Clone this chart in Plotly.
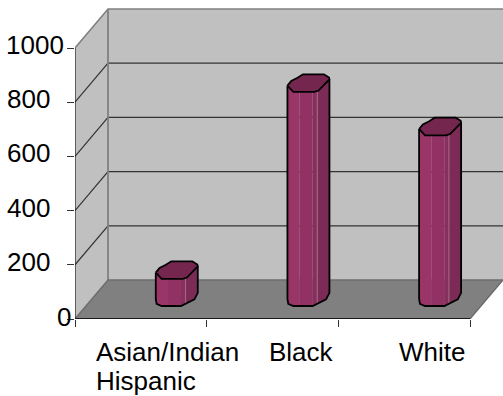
import numpy as np
import plotly.graph_objects as go

# ---- data ----
categories = ["Asian/Indian<br>Hispanic", "Black", "White"]
values = [100, 790, 630]
y_ticks = [0, 200, 400, 600, 800, 1000]

# ---- chart geometry (axis units) ----
W, H = 503, 396
LEFT, RIGHT, TOP, BOTTOM = 75, 0, 8, 77
CAT_PX = 131.67
VAL_PX = 0.271
DX = 33 / CAT_PX        # x shift of the full floor depth, in categories
DY = 39 / VAL_PX        # y shift of the full floor depth, in value units
XMAX = (W - LEFT - RIGHT) / CAT_PX
YMAX = (H - TOP - BOTTOM) / VAL_PX
NCAT = len(categories)
VMAX = y_ticks[-1]


def pr(x, v, d):
    """Oblique projection of (category pos, value, depth) onto the axes."""
    return x + d * DX, v + d * DY


def poly(points, fill=None, line=None, lw=0, clip=True):
    xs = [p[0] for p in points]
    ys = [p[1] for p in points]
    return go.Scatter(
        x=xs, y=ys, mode="lines" if line else "none",
        fill="toself" if fill else "none", fillcolor=fill,
        line=dict(color=line, width=lw) if line else None,
        hoverinfo="skip", showlegend=False, cliponaxis=clip,
    )


fig = go.Figure()

# walls and floor
fig.add_trace(poly([pr(0, 0, 1), pr(NCAT, 0, 1), pr(NCAT, VMAX, 1), pr(0, VMAX, 1), pr(0, 0, 1)], "#c0c0c0"))
fig.add_trace(poly([pr(0, 0, 0), pr(0, VMAX, 0), pr(0, VMAX, 1), pr(0, 0, 1), pr(0, 0, 0)], "#c0c0c0"))
fig.add_trace(poly([pr(0, 0, 0), pr(NCAT, 0, 0), pr(NCAT, 0, 1), pr(0, 0, 1), pr(0, 0, 0)], "#808080"))

# gridlines
for t in y_ticks[1:-1]:
    fig.add_trace(poly([pr(0, t, 0), pr(0, t, 1), pr(NCAT, t, 1)], None, "#333333", 1.2))

# wall edges
fig.add_trace(poly([pr(0, VMAX, 0), pr(0, VMAX, 1), pr(NCAT, VMAX, 1)], None, "#808080", 1.6))
fig.add_trace(poly([pr(0, 0, 1), pr(0, VMAX, 1)], None, "#808080", 1.8))
fig.add_trace(poly([pr(0, 0, 0), pr(0, 0, 1), pr(NCAT, 0, 1)], None, "#6e6e6e", 1.6))
fig.add_trace(poly([pr(NCAT, 0, 0), pr(NCAT, 0, 1)], None, "#666666", 1.2))

# bars: cross-section outline as fractions of the bar's drawn width / depth
BAR_W = 42 / CAT_PX
BAR_D = 17.6 / 39
BAR_OFF = 0.03
BAR_D0 = 0.333
cap_fx = [0.00, 0.14, 0.64, 0.74, 1.00, 0.99, 0.87, 0.37, 0.24, 0.09, 0.00]
cap_fy = [0.36, 0.00, 0.00, 0.08, 0.71, 0.82, 1.00, 1.00, 0.80, 0.62, 0.36]
top_fx = [0.00, 0.14, 0.64, 0.74, 1.00]
top_fy = [0.36, 0.00, 0.00, 0.08, 0.71]
front_fx = [0.00, 0.02, 0.14, 0.60, 0.92, 1.00]
front_fy = [0.40, 0.12, 0.00, 0.00, 0.38, 0.75]
bands = [(0.00, 0.29, "#9a3568"), (0.29, 0.60, "#923264"), (0.60, 0.71, "#87305d"), (0.71, 1.00, "#7b2b55")]


def bar_point(i, fx, fy, v):
    x0 = i + 0.5 + BAR_OFF + BAR_D0 * DX + fx * BAR_W
    return x0, v + (BAR_D0 + fy * BAR_D) * DY


for i, v in enumerate(values):
    for a, b, col in bands:
        fs = np.unique(np.r_[a, b, [f for f in front_fx + top_fx if a < f < b]])
        gs = np.interp(fs, front_fx, front_fy)
        ts = np.interp(fs, top_fx, top_fy)
        top = [bar_point(i, f, g, v) for f, g in zip(fs, ts)]
        low = [bar_point(i, f, g, 0) for f, g in zip(fs, gs)]
        fig.add_trace(poly(top + low[::-1] + top[:1], col))
    # facet highlight
    fig.add_trace(poly([bar_point(i, 0.71, float(np.interp(0.71, top_fx, top_fy)), v),
                        bar_point(i, 0.71, float(np.interp(0.71, front_fx, front_fy)), 0)], None, "#a86a8a", 1))
    # silhouette
    low = [bar_point(i, f, g2, 0) for f, g2 in zip(front_fx, front_fy)]
    fig.add_trace(poly([bar_point(i, 0, 0.36, v)] + low + [bar_point(i, 1, 0.71, v)], None, "#000000", 1.8))
    # top cap
    cap = [bar_point(i, f, g2, v) for f, g2 in zip(cap_fx, cap_fy)]
    fig.add_trace(poly(cap + cap[:1], "#74264f", "#000000", 1.8))

# axis lines
fig.add_trace(poly([(0, 0), (NCAT, 0)], None, "#1a1a1a", 2, clip=False))
fig.add_trace(poly([(0, 0), (0, VMAX)], None, "#1a1a1a", 1.2, clip=False))

FONT = dict(family="Liberation Sans, Arial, sans-serif", size=26, color="#000000")
PLOT_W = W - LEFT - RIGHT


def xpaper(px):
    return (px - LEFT) / PLOT_W


# tick labels as placed in the reference
y_label_right = {0: 72, 200: 51, 400: 51, 600: 51, 800: 51, 1000: 65}
annotations = []
for t in y_ticks:
    annotations.append(dict(
        x=xpaper(y_label_right[t]), y=t, xref="paper", yref="y", text=str(t),
        showarrow=False, xanchor="right", yanchor="middle", yshift=3 if t else 2,
        font=FONT, borderpad=0,
    ))
LINE_PX = 29
x_label_left = [95, 268, 398]
for i, c in enumerate(categories):
    for k, part in enumerate(c.split("<br>")):
        annotations.append(dict(
            x=xpaper(x_label_left[i]), y=0, xref="paper", yref="y", text=part, showarrow=False,
            xanchor="left", yanchor="top", yshift=-17 - k * LINE_PX, align="left", font=FONT, borderpad=0,
        ))

fig.update_layout(
    width=W, height=H,
    margin=dict(l=LEFT, r=RIGHT, t=TOP, b=BOTTOM, pad=0),
    paper_bgcolor="#ffffff", plot_bgcolor="#ffffff",
    showlegend=False, annotations=annotations,
    xaxis=dict(range=[0, XMAX], tickmode="array", tickvals=list(range(NCAT + 1)),
               ticks="outside", ticklen=7, tickcolor="#333333", tickwidth=1,
               showticklabels=False, showgrid=False, zeroline=False, showline=False, fixedrange=True),
    yaxis=dict(range=[0, YMAX], tickmode="array", tickvals=y_ticks,
               ticks="outside", ticklen=7, tickcolor="#333333", tickwidth=1,
               showticklabels=False, showgrid=False, zeroline=False, showline=False, fixedrange=True),
)

fig.write_html("out.html", config=dict(displayModeBar=False),
               post_script="document.body.style.margin='0';document.body.style.overflow='hidden';")
